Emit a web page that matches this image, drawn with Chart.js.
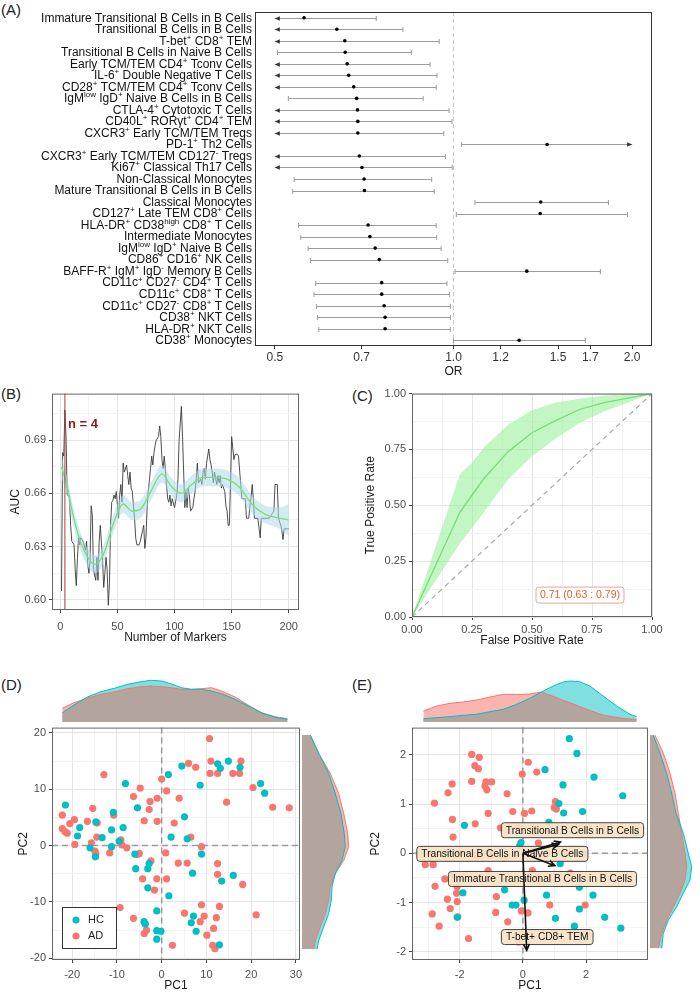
<!DOCTYPE html>
<html>
<head>
<meta charset="utf-8">
<script src="https://cdn.jsdelivr.net/npm/chart.js@4.4.1/dist/chart.umd.min.js"></script>
<style>
  body { margin: 0; background: #fff; width: 700px; height: 994px; position: relative; overflow: hidden;
         font-family: 'Liberation Sans', Arial, sans-serif; }
  canvas { position: absolute; }
  .tag { position: absolute; font-size: 15px; color: #222; line-height: 18px; }
</style>
</head>
<body>
<div class="tag" style="left:1px;top:1px">(A)</div>
<div class="tag" style="left:1px;top:385px">(B)</div>
<div class="tag" style="left:352px;top:387px">(C)</div>
<div class="tag" style="left:1px;top:676px">(D)</div>
<div class="tag" style="left:352px;top:676px">(E)</div>
<script>
// ---------- (A) forest plot ----------
const cellLabels = [
  'Immature Transitional B Cells in B Cells', 'Transitional B Cells in B Cells', 'T-bet^+ CD8^+ TEM',
  'Transitional B Cells in Naive B Cells', 'Early TCM/TEM CD4^+ Tconv Cells', 'IL-6^+ Double Negative T Cells',
  'CD28^+ TCM/TEM CD4^+ Tconv Cells', 'IgM^{low} IgD^+ Naive B Cells in B Cells', 'CTLA-4^+ Cytotoxic T Cells',
  'CD40L^+ ROR\u03b3t^+ CD4^+ TEM', 'CXCR3^+ Early TCM/TEM Tregs', 'PD-1^+ Th2 Cells',
  'CXCR3^+ Early TCM/TEM CD127^- Tregs', 'Ki67^+ Classical Th17 Cells', 'Non-Classical Monocytes',
  'Mature Transitional B Cells in B Cells', 'Classical Monocytes', 'CD127^+ Late TEM CD8^+ Cells',
  'HLA-DR^+ CD38^{high} CD8^+ T Cells', 'Intermediate Monocytes', 'IgM^{low} IgD^+ Naive B Cells',
  'CD86^+ CD16^+ NK Cells', 'BAFF-R^+ IgM^+ IgD^- Memory B Cells', 'CD11c^+ CD27^- CD4^+ T Cells',
  'CD11c^+ CD8^+ T Cells', 'CD11c^+ CD27^- CD8^+ T Cells', 'CD38^+ NKT Cells', 'HLA-DR^+ NKT Cells',
  'CD38^+ Monocytes'
];
const orEst  = [0.560, 0.636, 0.656, 0.657, 0.662, 0.666, 0.679, 0.687, 0.689, 0.690, 0.690, 1.438, 0.694, 0.701, 0.707,
                0.708, 1.403, 1.400, 0.718, 0.723, 0.738, 0.750, 1.329, 0.757, 0.757, 0.764, 0.767, 0.767, 1.290];
const orLow  = [0.5, 0.5, 0.5, 0.505, 0.5, 0.5, 0.5, 0.527, 0.5, 0.5, 0.5, 1.032, 0.5, 0.5, 0.539,
                0.536, 1.087, 1.011, 0.548, 0.553, 0.569, 0.574, 1.006, 0.586, 0.582, 0.588, 0.590, 0.593, 1.000];
const orHigh = [0.741, 0.822, 0.946, 0.849, 0.913, 0.938, 0.935, 0.889, 0.983, 0.994, 0.963, 2.0, 0.969, 0.995, 0.919,
                0.928, 1.824, 1.964, 0.935, 0.937, 0.953, 0.978, 1.768, 0.975, 0.984, 0.988, 0.988, 0.988, 1.668];
const orTicks = [0.5, 0.7, 1.0, 1.2, 1.5, 1.7, 2.0];

// ---------- (B) AUC vs number of markers ----------
const markersB = [1, 2, 3, 4, 5, 6, 8, 9, 10, 12,
  13, 14, 15, 16, 17, 18, 19, 20, 22, 23,
  24, 25, 26, 27, 28, 29, 31, 32, 33, 34,
  35, 37, 38, 39, 40, 41, 42, 43, 44, 45,
  46, 47, 48, 49, 51, 52, 53, 54, 55, 56,
  58, 59, 60, 61, 62, 63, 65, 66, 67, 68,
  69, 70, 72, 73, 74, 75, 76, 77, 79, 80,
  81, 82, 83, 84, 86, 87, 88, 89, 90, 91,
  93, 94, 95, 96, 97, 98, 100, 102, 103, 104,
  106, 107, 109, 110, 111, 112, 113, 114, 116, 117,
  118, 119, 120, 121, 123, 124, 125, 126, 127, 128,
  130, 131, 132, 133, 134, 135, 137, 138, 139, 140,
  141, 142, 144, 145, 146, 147, 148, 149, 150, 152,
  153, 154, 155, 156, 158, 159, 160, 161, 162, 163,
  165, 166, 167, 168, 169, 170, 173, 175, 176, 180,
  183, 185, 187, 188, 190, 191, 193, 194, 195, 196,
  200];
const aucB = [0.605, 0.683, 0.681, 0.707, 0.692, 0.659, 0.658, 0.642, 0.633, 0.631,
  0.617, 0.608, 0.624, 0.635, 0.631, 0.635, 0.634, 0.633, 0.628, 0.633,
  0.620, 0.615, 0.622, 0.653, 0.648, 0.617, 0.611, 0.624, 0.611, 0.633,
  0.642, 0.622, 0.607, 0.615, 0.624, 0.617, 0.597, 0.609, 0.642, 0.655,
  0.656, 0.659, 0.657, 0.661, 0.646, 0.659, 0.665, 0.655, 0.677, 0.672,
  0.676, 0.670, 0.665, 0.672, 0.663, 0.661, 0.646, 0.635, 0.631, 0.631,
  0.631, 0.633, 0.639, 0.642, 0.629, 0.635, 0.652, 0.661, 0.674, 0.681,
  0.676, 0.683, 0.687, 0.690, 0.692, 0.698, 0.692, 0.679, 0.674, 0.681,
  0.665, 0.657, 0.655, 0.659, 0.653, 0.657, 0.652, 0.659, 0.668, 0.690,
  0.709, 0.692, 0.652, 0.661, 0.652, 0.663, 0.659, 0.650, 0.652, 0.657,
  0.661, 0.668, 0.677, 0.666, 0.668, 0.665, 0.672, 0.674, 0.668, 0.677,
  0.685, 0.679, 0.676, 0.672, 0.666, 0.672, 0.665, 0.670, 0.666, 0.670,
  0.663, 0.665, 0.661, 0.653, 0.650, 0.642, 0.642, 0.665, 0.692, 0.679,
  0.682, 0.682, 0.682, 0.681, 0.665, 0.657, 0.657, 0.657, 0.657, 0.646,
  0.646, 0.653, 0.657, 0.665, 0.657, 0.646, 0.646, 0.635, 0.646, 0.646,
  0.646, 0.648, 0.650, 0.665, 0.665, 0.646, 0.642, 0.639, 0.634, 0.640,
  0.640];
const smoothN   = [1, 6, 10, 17, 26, 31, 38, 47, 55, 63, 70, 80, 89, 97, 106, 115, 125, 135, 146, 156, 169, 180, 192, 200];
const smoothAuc = [0.675, 0.664, 0.651, 0.634, 0.622, 0.620, 0.626, 0.644, 0.654, 0.650, 0.651, 0.662, 0.671, 0.664,
                   0.660, 0.665, 0.669, 0.669, 0.668, 0.664, 0.653, 0.648, 0.646, 0.645];
const smoothHi  = [0.681, 0.669, 0.656, 0.639, 0.627, 0.625, 0.631, 0.649, 0.659, 0.655, 0.656, 0.667, 0.676, 0.669,
                   0.665, 0.670, 0.674, 0.674, 0.673, 0.669, 0.658, 0.653, 0.652, 0.654];
const smoothLo  = [0.669, 0.659, 0.646, 0.629, 0.617, 0.615, 0.621, 0.639, 0.649, 0.645, 0.646, 0.657, 0.666, 0.659,
                   0.655, 0.660, 0.664, 0.664, 0.663, 0.659, 0.648, 0.643, 0.640, 0.636];
const bestN = 4;

// ---------- (C) ROC ----------
const fpr     = [0, 0.2, 0.25, 0.3, 0.4, 0.5, 0.6, 0.7, 0.8, 0.9, 1.0];
const tprMean = [0, 0.47, 0.545, 0.62, 0.74, 0.825, 0.88, 0.93, 0.96, 0.98, 1];
const tprHigh = [0, 0.64, 0.69, 0.76, 0.86, 0.925, 0.96, 0.978, 0.99, 0.997, 1];
const tprLow  = [0, 0.33, 0.40, 0.47, 0.615, 0.72, 0.80, 0.87, 0.92, 0.96, 1];
const rocAuc  = [0.71, 0.63, 0.79];

// ---------- (D) PCA of all markers ----------
const hcScoresD = [[-21.5, 7.2], [-18.3, 3.2], [-18.8, 1.7], [-16.0, -0.4], [-14.7, 4.2], [-14.8, -2.0], [-13.3, 1.4],
  [-11.2, 2.8], [-11.2, -0.2], [-10.8, 5.9], [-9.5, 0.8], [-8.6, 3.2], [-8.1, 11.0], [-5.4, 6.7], [-6.0, -1.5],
  [-5.8, -4.1], [-3.1, -4.1], [-2.8, -3.2], [-3.1, -7.5], [-3.95, -13.5], [-3.65, -13.9], [-1.1, -11.6],
  [-1.1, -15.1], [-1.1, -16.6], [-0.15, -15.2], [1.5, 12.6], [2.1, 1.5], [1.6, -8.9], [4.5, 14.1], [5.1, 5.1],
  [5.7, 1.2], [6.9, -4.9], [6.6, -13.7], [7.1, -12.5], [7.7, -15.2], [8.6, 10.7], [8.9, -1.5], [12.5, 14.5],
  [13.1, 13.7], [14.9, 15.0], [17.5, 13.9], [13.4, -6.3], [16.0, -5.3], [12.9, -17.6], [22.1, 11.0], [23.0, 9.3]];
const adScoresD = [[-22.2, 5.4], [-22.2, 3.0], [-21.6, 2.5], [-21.1, 2.2], [-20.5, 3.9], [-19.5, 4.6], [-19.4, 0.2],
  [-16.6, 4.3], [-15.4, 6.6], [-15.7, 0.5], [-14.4, 4.0], [-14.5, 1.5], [-14.9, -1.0], [-14.7, -1.5], [-12.9, 12.6],
  [-11.6, -1.3], [-10.7, 5.4], [-9.1, 1.0], [-8.9, 0.1], [-7.8, -0.4], [-9.3, -11.0], [-6.3, 8.7], [-4.8, 10.2],
  [-5.0, -1.4], [-5.4, -1.6], [-3.9, 4.4], [-2.8, 6.4], [-2.6, 7.8], [-2.4, -2.7], [-4.25, -5.9], [-1.6, -7.9],
  [-1.1, -5.9], [-1.0, 8.4], [-1.0, 4.3], [0, 11.8], [-6.3, -12.9], [-3.9, -15.6], [-3.4, -15.0], [0.9, -1.3],
  [1.1, -5.9], [1.1, 9.7], [2.8, 4.0], [3.9, 8.4], [3.7, -3.1], [2.4, -17.7], [5.1, -12.0], [5.7, -3.1], [6.0, 14.6],
  [6.5, 1.5], [7.6, 13.9], [8.9, -0.2], [8.9, -10.5], [9.5, -12.5], [8.6, -13.5], [10.1, -15.9], [10.7, 19.0],
  [11.0, 15.0], [10.8, 12.8], [12.5, 12.8], [11.6, -14.7], [11.4, -17.7], [11.9, -18.3], [12.2, -12.8],
  [12.5, -3.2], [12.5, -5.1], [12.9, -10.8], [14.5, 7.7], [15.9, 12.8], [17.4, 12.8], [17.7, 15.0], [18.1, -6.9],
  [20.4, 10.3], [21.1, -12.3], [24.8, 6.8], [28.5, 6.7]];
const densDx       = [-22.2, -19.6, -16.6, -13.6, -10.6, -7.6, -4.6, -2.4, -0.1, 2.1, 4.4, 6.6, 8.9, 11.1, 13.4, 16.4, 19.3, 22.3, 25.3, 28.1];
const densDtopAD   = [13.7, 19.3, 23.7, 27.7, 30, 33.3, 35.3, 36, 35.3, 34.3, 32.7, 32.7, 33.3, 34.3, 31, 25, 17, 9.3, 5.3, 3.3];
const densDtopHC   = [9.3, 17, 25, 30.3, 33.7, 37.7, 40.3, 41.7, 41, 38.3, 34.3, 32.7, 32.7, 31, 28.3, 22.7, 16, 9.3, 4.7, 2.7];
const densDy       = [19.0, 15.8, 12.3, 8.8, 5.3, 1.8, -0.5, -2.9, -5.2, -7.5, -9.9, -12.2, -14.5, -16.9, -18.4];
const densDrightAD = [8.3, 16.7, 28.3, 36.7, 41.7, 45.7, 46.7, 41.7, 33.3, 28.3, 26.7, 23.3, 18.3, 13.3, 11.7];
const densDrightHC = [8.3, 16.7, 26.7, 33.3, 39, 42.3, 43.3, 40, 33.3, 30, 29.3, 26.7, 21.7, 16.7, 15];

// ---------- (E) PCA of top markers ----------
const hcScoresE = [[1.47, 2.33], [1.71, 2.03], [2.25, 1.55], [1.27, 1.39], [0.70, 1.70], [3.16, 1.17], [1.14, 1.01],
  [1.29, 0.82], [1.89, 0.85], [0.82, 0.63], [-1.85, 0.57], [-0.06, 0.22], [1.18, -0.21], [-1.90, -0.80],
  [-0.58, -0.74], [0.75, -0.85], [-0.34, -1.05], [-0.22, -1.05], [0.04, -0.95], [1.03, -1.32], [1.79, -1.13],
  [2.22, -0.85], [2.59, -1.30], [3.10, -1.52], [1.63, -1.48], [1.79, -0.69], [-2.08, -1.30], [-2.21, -0.43],
  [-2.37, 0.03], [3.57, 0.42], [1.89, -0.01], [-0.10, 0.15]];
const adScoresE = [[-1.62, 2.01], [-1.38, 1.95], [-1.52, 1.78], [-1.41, 1.72], [-1.62, 1.46], [-1.17, 1.45],
  [-0.99, 1.45], [-1.20, 1.37], [-1.14, 1.29], [-2.24, 1.41], [-2.37, 1.23], [-2.80, 1.02], [-2.23, 0.69],
  [-2.21, 0.33], [-1.51, 0.60], [-1.10, 0.81], [-0.50, 1.21], [-0.32, 0.85], [-0.71, 0.52], [-0.02, 1.61],
  [0.17, 1.85], [0.44, 1.65], [0.05, 0.81], [0.28, 0.86], [-0.13, 0.52], [1.03, 1.05], [1.06, 0.90], [0.99, 0.93],
  [0.49, 0.21], [-3.09, -0.23], [-2.84, -0.23], [-2.47, -0.52], [-2.78, -0.67], [-2.08, -0.68], [-2.10, -0.81],
  [-2.39, -0.93], [-2.08, -0.98], [-2.30, -1.12], [-2.06, -1.29], [-2.87, -1.23], [-2.65, -1.48], [-1.72, -1.73],
  [-1.10, -0.35], [-0.84, -0.88], [-0.86, -1.20], [-0.48, -1.39], [-0.05, -1.17], [0.16, -1.21], [0.85, -1.05],
  [1.97, -1.05], [-0.13, -1.80], [0.49, -0.52], [-1.48, -0.07], [2.53, 0.54], [-0.60, -0.10], [-1.00, 0.00],
  [0.30, -0.35], [1.50, -0.40]];
const densEx       = [-3.15, -2.73, -2.31, -1.89, -1.47, -1.04, -0.62, -0.20, 0.22, 0.59, 0.85, 1.07, 1.28, 1.49, 1.80, 2.12, 2.54, 2.97, 3.39, 3.60];
const densEtopAD   = [11, 16, 18.7, 20, 22, 25, 27.7, 27.5, 28, 30, 27, 24.3, 21.5, 19.3, 15.5, 11.5, 7, 4.5, 3, 2.3];
const densEtopHC   = [3.3, 4.3, 5.3, 6.7, 7.7, 10.3, 12.7, 17.7, 23.7, 30, 34.3, 37.5, 40, 41, 40.3, 36, 26, 16, 7.7, 5.3];
const densEy       = [2.33, 1.97, 1.57, 1.17, 0.77, 0.37, -0.03, -0.30, -0.57, -0.83, -1.10, -1.37, -1.63, -1.93];
const densErightAD = [5, 13.3, 20, 25, 28.3, 31.7, 35, 36.7, 35, 30, 23.3, 16.7, 11.7, 8.3];
const densErightHC = [3.3, 10, 16.7, 21.7, 26, 33.3, 38.3, 41.7, 40, 33.3, 26.7, 18.3, 13.3, 11.7];
const loadingNames = ['Transitional B Cells in B Cells', 'Transitional B Cells in Naive B Cells',
                      'Immature Transitional B Cells in B Cells', 'T-bet+ CD8+ TEM'];
const loadX  = [1.19, 1.12, 1.01, 0.12];
const loadY  = [0.23, 0.18, -0.25, -1.97];
const labelX = [1.57, -0.65, 0.62, 0.77];
const labelY = [0.47, -0.01, -0.52, -1.70];

const HC = '#00BFC4', AD = '#F8766D';
const FONT = "'Liberation Sans', Arial, sans-serif";

Chart.defaults.font.family = FONT;
Chart.defaults.color = '#333';
Chart.defaults.responsive = false;
Chart.defaults.animation = false;
Chart.defaults.events = [];
Chart.defaults.plugins.legend.display = false;
Chart.defaults.plugins.tooltip.enabled = false;
Chart.defaults.elements.point.radius = 0;

// box round every plot panel
Chart.register({
  id: 'frame',
  defaults: {color: null},
  afterDraw(chart, args, opts) {
    if (!opts.color) return;
    const {ctx, chartArea: a} = chart;
    ctx.save();
    ctx.strokeStyle = opts.color;
    ctx.lineWidth = 1;
    ctx.strokeRect(a.left + 0.5, a.top + 0.5, a.width - 1, a.height - 1);
    ctx.restore();
  }
});

function place(area, pad) {
  const c = document.createElement('canvas');
  c.width = area.r - area.l + pad.l + pad.r;
  c.height = area.b - area.t + pad.t + pad.b;
  c.style.left = (area.l - pad.l) + 'px';
  c.style.top = (area.t - pad.t) + 'px';
  document.body.appendChild(c);
  return c;
}

function axis(o) {
  const all = o.majors.concat(o.minors || []).sort((a, b) => a - b);
  const isMajor = v => o.majors.some(m => Math.abs(m - v) < 1e-7);
  return {
    type: 'linear', min: o.min, max: o.max,
    afterBuildTicks: s => { s.ticks = all.map(v => ({value: v})); },
    afterFit: s => { if (o.horiz) s.height = o.size; else s.width = o.size; },
    ticks: {autoSkip: false, maxRotation: 0, color: '#4d4d4d', font: {size: 11}, padding: o.pad,
            callback: v => isMajor(v) ? o.fmt(v) : ''},
    grid: {color: c => (c.tick && isMajor(c.tick.value)) ? '#e4e4e4' : '#f3f3f3',
           tickColor: c => (c.tick && isMajor(c.tick.value)) ? '#444' : 'rgba(0,0,0,0)', tickLength: 3},
    border: {display: false},
    title: {display: true, text: o.title, color: '#1a1a1a', font: {size: 12}, padding: o.titlePad}
  };
}

function richParts(s) {
  const parts = [];
  let buf = '', i = 0;
  while (i < s.length) {
    if (s[i] === '^') {
      if (buf) parts.push({t: buf, sup: false});
      buf = '';
      if (s[i + 1] === '{') {
        const j = s.indexOf('}', i);
        parts.push({t: s.slice(i + 2, j), sup: true});
        i = j + 1;
      } else {
        parts.push({t: s[i + 1], sup: true});
        i += 2;
      }
    } else {
      buf += s[i];
      i++;
    }
  }
  if (buf) parts.push({t: buf, sup: false});
  return parts;
}

function drawRich(ctx, text, right, y, size) {
  const parts = richParts(text);
  const normal = size + 'px ' + FONT, small = Math.round(size * 0.68) + 'px ' + FONT;
  let w = 0;
  parts.forEach(p => { ctx.font = p.sup ? small : normal; p.w = ctx.measureText(p.t).width; w += p.w; });
  let x = right - w;
  ctx.textAlign = 'left';
  ctx.textBaseline = 'middle';
  parts.forEach(p => {
    ctx.font = p.sup ? small : normal;
    ctx.fillText(p.t, x, p.sup ? y - size * 0.32 : y);
    x += p.w;
  });
}

const forestBars = {
  id: 'forestBars',
  beforeDatasetsDraw(chart) {
    const {ctx, chartArea: a, scales: {x, y}} = chart;
    ctx.save();
    const x1 = Math.round(x.getPixelForValue(1)) + 0.5;
    ctx.strokeStyle = '#c8c8c8';
    ctx.setLineDash([4, 3]);
    ctx.lineWidth = 1;
    ctx.beginPath(); ctx.moveTo(x1, a.top); ctx.lineTo(x1, a.bottom); ctx.stroke();
    ctx.setLineDash([]);
    cellLabels.forEach((lab, i) => {
      const py = Math.round(y.getPixelForValue(i)) + 0.5;
      const lo = x.getPixelForValue(orLow[i]), hi = x.getPixelForValue(orHigh[i]);
      ctx.strokeStyle = '#9c9c9c';
      ctx.beginPath(); ctx.moveTo(lo, py); ctx.lineTo(hi, py); ctx.stroke();
      ctx.fillStyle = '#333';
      [[lo, orLow[i] <= 0.5, -1], [hi, orHigh[i] >= 2.0, 1]].forEach(([px, cut, dir]) => {
        if (cut) {
          ctx.beginPath();
          ctx.moveTo(px, py); ctx.lineTo(px - dir * 5, py - 2.2); ctx.lineTo(px - dir * 5, py + 2.2);
          ctx.closePath(); ctx.fill();
        } else {
          ctx.beginPath(); ctx.moveTo(px, py - 2.5); ctx.lineTo(px, py + 2.5); ctx.stroke();
        }
      });
    });
    ctx.restore();
  },
  afterDraw(chart) {
    const {ctx, chartArea: a, scales: {y}} = chart;
    ctx.save();
    ctx.fillStyle = '#111';
    cellLabels.forEach((t, i) => drawRich(ctx, t, a.left - 3, y.getPixelForValue(i) + 0.5, 12));
    ctx.restore();
  }
};

new Chart(place({l: 255, t: 12, r: 652, b: 346}, {l: 250, t: 12, r: 14, b: 36}), {
  type: 'scatter',
  data: {datasets: [{
    data: cellLabels.map((c, i) => ({x: orEst[i], y: c})),
    pointRadius: 1.8, backgroundColor: '#000', borderWidth: 0
  }]},
  options: {
    layout: {padding: {top: 12, right: 14}},
    scales: {
      x: {type: 'logarithmic', min: 0.463, max: 2.16,
          afterBuildTicks: s => { s.ticks = orTicks.map(v => ({value: v})); },
          afterFit: s => { s.height = 36; },
          ticks: {autoSkip: false, maxRotation: 0, color: '#333', font: {size: 12}, padding: 1,
                  callback: v => Number(v).toFixed(1)},
          grid: {drawOnChartArea: false, tickLength: 3, color: '#333'},
          border: {display: false},
          title: {display: true, text: 'OR', color: '#1a1a1a', font: {size: 12}, padding: {top: 0, bottom: 3}}},
      y: {type: 'category', labels: cellLabels, offset: true,
          ticks: {display: false}, grid: {display: false}, border: {display: false},
          afterFit: s => { s.width = 250; }}
    },
    plugins: {frame: {color: '#333'}}
  },
  plugins: [forestBars]
});

// ---------- (B) ----------
const bestLine = {
  id: 'bestLine',
  afterDatasetsDraw(chart) {
    const {ctx, chartArea: a, scales: {x, y}} = chart;
    const px = x.getPixelForValue(bestN);
    ctx.save();
    ctx.strokeStyle = '#b03a3a';
    ctx.lineWidth = 1;
    ctx.beginPath(); ctx.moveTo(px, a.top); ctx.lineTo(px, a.bottom); ctx.stroke();
    ctx.fillStyle = '#8b1a1a';
    ctx.font = 'bold 13px ' + FONT;
    ctx.textBaseline = 'middle';
    ctx.fillText('n = ' + bestN, px + 3, y.getPixelForValue(0.699));
    ctx.restore();
  }
};

new Chart(place({l: 52, t: 392, r: 299, b: 610}, {l: 52, t: 8, r: 10, b: 36}), {
  type: 'line',
  data: {datasets: [
    {data: smoothN.map((n, i) => ({x: n, y: smoothAuc[i]})), borderColor: '#78e078', borderWidth: 1.3,
     cubicInterpolationMode: 'monotone'},
    {data: smoothN.map((n, i) => ({x: n, y: smoothHi[i]})), borderColor: 'rgba(0,0,0,0)', borderWidth: 0,
     backgroundColor: 'rgba(173,216,230,0.55)', fill: '+1', cubicInterpolationMode: 'monotone'},
    {data: smoothN.map((n, i) => ({x: n, y: smoothLo[i]})), borderColor: 'rgba(0,0,0,0)', borderWidth: 0,
     cubicInterpolationMode: 'monotone'},
    {data: markersB.map((n, i) => ({x: n, y: aucB[i]})), borderColor: '#3a3a3a', borderWidth: 0.9}
  ]},
  options: {
    layout: {padding: {top: 8, right: 10}},
    scales: {
      x: axis({majors: [0, 50, 100, 150, 200], minors: [25, 75, 125, 175], fmt: v => String(v),
               min: -7.3, max: 209, pad: 7, title: 'Number of Markers', titlePad: {top: 0, bottom: 1},
               size: 36, horiz: true}),
      y: axis({majors: [0.60, 0.63, 0.66, 0.69], minors: [0.615, 0.645, 0.675, 0.705], fmt: v => v.toFixed(2),
               min: 0.5943, max: 0.7162, pad: 3, title: 'AUC', titlePad: {top: 8, bottom: 0}, size: 52})
    },
    plugins: {frame: {color: '#666'}}
  },
  plugins: [bestLine]
});

// ---------- (C) ----------
const aucBox = {
  id: 'aucBox',
  afterDatasetsDraw(chart) {
    const {ctx, scales: {x, y}} = chart;
    const txt = rocAuc[0].toFixed(2) + ' (' + rocAuc[1].toFixed(2) + ' : ' + rocAuc[2].toFixed(2) + ')';
    ctx.save();
    ctx.font = '10.5px ' + FONT;
    const w = ctx.measureText(txt).width + 8, h = 16;
    const cx = x.getPixelForValue(0.70), cy = y.getPixelForValue(0.098);
    ctx.fillStyle = '#fff';
    ctx.strokeStyle = '#e9a58c';
    ctx.beginPath();
    ctx.roundRect(cx - w / 2, cy - h / 2, w, h, 3);
    ctx.fill(); ctx.stroke();
    ctx.fillStyle = '#e8602c';
    ctx.textAlign = 'center';
    ctx.textBaseline = 'middle';
    ctx.fillText(txt, cx, cy + 0.5);
    ctx.restore();
  }
};

new Chart(place({l: 412, t: 392, r: 652, b: 617}, {l: 62, t: 8, r: 14, b: 34}), {
  type: 'line',
  data: {datasets: [
    {data: [{x: 0, y: 0}, {x: 1, y: 1}], borderColor: '#a8a8a8', borderWidth: 1.2, borderDash: [5, 4]},
    {data: fpr.map((f, i) => ({x: f, y: tprMean[i]})), borderColor: '#78dc78', borderWidth: 1.3},
    {data: fpr.map((f, i) => ({x: f, y: tprHigh[i]})), borderColor: 'rgba(0,0,0,0)', borderWidth: 0,
     backgroundColor: 'rgba(144,238,144,0.55)', fill: '+1'},
    {data: fpr.map((f, i) => ({x: f, y: tprLow[i]})), borderColor: 'rgba(0,0,0,0)', borderWidth: 0}
  ]},
  options: {
    layout: {padding: {top: 8, right: 14}},
    scales: {
      x: axis({majors: [0, 0.25, 0.5, 0.75, 1], minors: [0.125, 0.375, 0.625, 0.875], fmt: v => v.toFixed(2),
               min: 0, max: 1, pad: 3, title: 'False Positive Rate', titlePad: {top: 0, bottom: 3}, size: 34, horiz: true}),
      y: axis({majors: [0, 0.25, 0.5, 0.75, 1], minors: [0.125, 0.375, 0.625, 0.875], fmt: v => v.toFixed(2),
               min: 0, max: 1, pad: 3, title: 'True Positive Rate', titlePad: {top: 13, bottom: 0}, size: 62})
    },
    plugins: {frame: {color: '#666'}}
  },
  plugins: [aucBox]
});

// ---------- (D) and (E) shared pieces ----------
function zeroLines() {
  return {
    id: 'zeroLines',
    beforeDatasetsDraw(chart) {
      const {ctx, chartArea: a, scales: {x, y}} = chart;
      const px = x.getPixelForValue(0), py = y.getPixelForValue(0);
      ctx.save();
      ctx.strokeStyle = '#9a9a9a';
      ctx.lineWidth = 1.5;
      ctx.setLineDash([6, 4]);
      ctx.beginPath();
      ctx.moveTo(px, a.top); ctx.lineTo(px, a.bottom);
      ctx.moveTo(a.left, py); ctx.lineTo(a.right, py);
      ctx.stroke();
      ctx.restore();
    }
  };
}

const minOf = (a, b) => a.map((v, i) => Math.min(v, b[i]));

function densitySets(pos, ad, hc, vertical) {
  const mk = arr => pos.map((p, i) => vertical ? {x: arr[i], y: p} : {x: p, y: arr[i]});
  const none = 'rgba(0,0,0,0)';
  return [
    {data: mk(hc), borderColor: HC, borderWidth: 1, fill: false},
    {data: mk(ad), borderColor: AD, borderWidth: 1, fill: false},
    {data: mk(minOf(ad, hc)), borderColor: none, borderWidth: 0, backgroundColor: '#b4a49e', fill: 'origin'},
    {data: mk(hc), borderColor: none, borderWidth: 0, backgroundColor: 'rgba(0,191,196,0.5)', fill: 'origin'},
    {data: mk(ad), borderColor: none, borderWidth: 0, backgroundColor: 'rgba(248,118,109,0.55)', fill: 'origin'}
  ];
}

function topDensity(area, xmin, xmax, pos, ad, hc) {
  new Chart(place(area, {l: 0, t: 0, r: 0, b: 0}), {
    type: 'line',
    data: {datasets: densitySets(pos, ad, hc, false)},
    options: {
      scales: {x: {type: 'linear', display: false, min: xmin, max: xmax},
               y: {type: 'linear', display: false, min: 0, max: area.b - area.t}}
    }
  });
}

function rightDensity(area, ymin, ymax, pos, ad, hc) {
  new Chart(place(area, {l: 0, t: 0, r: 0, b: 0}), {
    type: 'line',
    data: {datasets: densitySets(pos, ad, hc, true)},
    options: {
      indexAxis: 'y',
      scales: {x: {type: 'linear', display: false, min: 0, max: area.r - area.l},
               y: {type: 'linear', display: false, min: ymin, max: ymax}}
    }
  });
}

function scoreSets(hc, ad) {
  return [
    {label: 'HC', data: hc.map(p => ({x: p[0], y: p[1]})), pointRadius: 3.6, backgroundColor: HC, borderWidth: 0},
    {label: 'AD', data: ad.map(p => ({x: p[0], y: p[1]})), pointRadius: 3.6, backgroundColor: AD, borderWidth: 0}
  ];
}

// ---------- (D) ----------
const groupKey = {
  id: 'groupKey',
  afterDatasetsDraw(chart) {
    const {ctx, chartArea: a} = chart;
    const bx = a.left + 10, by = a.bottom - 53;
    ctx.save();
    ctx.fillStyle = '#fff';
    ctx.strokeStyle = '#333';
    ctx.lineWidth = 1;
    ctx.fillRect(bx, by, 54, 41);
    ctx.strokeRect(bx + 0.5, by + 0.5, 54, 41);
    chart.data.datasets.forEach((ds, i) => {
      const cy = by + 13 + i * 16;
      ctx.fillStyle = ds.backgroundColor;
      ctx.beginPath(); ctx.arc(bx + 14, cy, 3.6, 0, Math.PI * 2); ctx.fill();
      ctx.fillStyle = '#222';
      ctx.font = '11px ' + FONT;
      ctx.textBaseline = 'middle';
      ctx.fillText(ds.label, bx + 26, cy);
    });
    ctx.restore();
  }
};

const dX = [-24.5, 30.9], dY = [-20.3, 20.93];
topDensity({l: 52, t: 676, r: 300, b: 722}, dX[0], dX[1], densDx, densDtopAD, densDtopHC);
rightDensity({l: 302, t: 724, r: 350, b: 960}, dY[0], dY[1], densDy, densDrightAD, densDrightHC);
new Chart(place({l: 52, t: 724, r: 300, b: 960}, {l: 52, t: 6, r: 10, b: 34}), {
  type: 'scatter',
  data: {datasets: scoreSets(hcScoresD, adScoresD)},
  options: {
    layout: {padding: {top: 6, right: 10}},
    scales: {
      x: axis({majors: [-20, -10, 0, 10, 20, 30], minors: [-15, -5, 5, 15, 25], fmt: v => String(v),
               min: dX[0], max: dX[1], pad: 5, title: 'PC1', titlePad: {top: 0, bottom: 1}, size: 34, horiz: true}),
      y: axis({majors: [-20, -10, 0, 10, 20], minors: [-15, -5, 5, 15], fmt: v => String(v),
               min: dY[0], max: dY[1], pad: 3, title: 'PC2', titlePad: {top: 16, bottom: 0}, size: 52})
    },
    plugins: {frame: {color: '#666'}}
  },
  plugins: [zeroLines(), groupKey]
});

// ---------- (E) ----------
const loadings = {
  id: 'loadings',
  afterDatasetsDraw(chart) {
    const {ctx, scales: {x, y}} = chart;
    ctx.save();
    ctx.font = '10.2px ' + FONT;
    ctx.textAlign = 'center';
    ctx.textBaseline = 'middle';
    loadingNames.forEach((name, i) => {
      const cx = x.getPixelForValue(labelX[i]), cy = y.getPixelForValue(labelY[i]);
      const w = ctx.measureText(name).width + 9, h = 15;
      ctx.fillStyle = 'rgba(248,226,198,0.92)';
      ctx.strokeStyle = '#444';
      ctx.lineWidth = 1;
      ctx.beginPath();
      ctx.roundRect(cx - w / 2, cy - h / 2, w, h, 3);
      ctx.fill(); ctx.stroke();
      ctx.fillStyle = '#111';
      ctx.fillText(name, cx, cy + 0.5);
    });
    const ox = x.getPixelForValue(0), oy = y.getPixelForValue(0);
    ctx.strokeStyle = '#111';
    ctx.lineWidth = 1.6;
    loadingNames.forEach((name, i) => {
      const ex = x.getPixelForValue(loadX[i]), ey = y.getPixelForValue(loadY[i]);
      const ang = Math.atan2(ey - oy, ex - ox);
      ctx.beginPath();
      ctx.moveTo(ox, oy); ctx.lineTo(ex, ey);
      ctx.moveTo(ex - 7 * Math.cos(ang - 0.45), ey - 7 * Math.sin(ang - 0.45));
      ctx.lineTo(ex, ey);
      ctx.lineTo(ex - 7 * Math.cos(ang + 0.45), ey - 7 * Math.sin(ang + 0.45));
      ctx.stroke();
    });
    ctx.restore();
  }
};

const eX = [-3.51, 3.96], eY = [-2.166, 2.554];
topDensity({l: 412, t: 676, r: 648, b: 722}, eX[0], eX[1], densEx, densEtopAD, densEtopHC);
rightDensity({l: 650, t: 724, r: 698, b: 960}, eY[0], eY[1], densEy, densErightAD, densErightHC);
new Chart(place({l: 412, t: 724, r: 648, b: 960}, {l: 62, t: 6, r: 10, b: 34}), {
  type: 'scatter',
  data: {datasets: scoreSets(hcScoresE, adScoresE)},
  options: {
    layout: {padding: {top: 6, right: 10}},
    scales: {
      x: axis({majors: [-2, 0, 2], minors: [-3, -1, 1, 3], fmt: v => String(v),
               min: eX[0], max: eX[1], pad: 5, title: 'PC1', titlePad: {top: 0, bottom: 1}, size: 34, horiz: true}),
      y: axis({majors: [-2, -1, 0, 1, 2], minors: [-1.5, -0.5, 0.5, 1.5], fmt: v => String(v),
               min: eY[0], max: eY[1], pad: 3, title: 'PC2', titlePad: {top: 18, bottom: 0}, size: 62})
    },
    plugins: {frame: {color: '#666'}}
  },
  plugins: [zeroLines(), loadings]
});
</script>
</body>
</html>
